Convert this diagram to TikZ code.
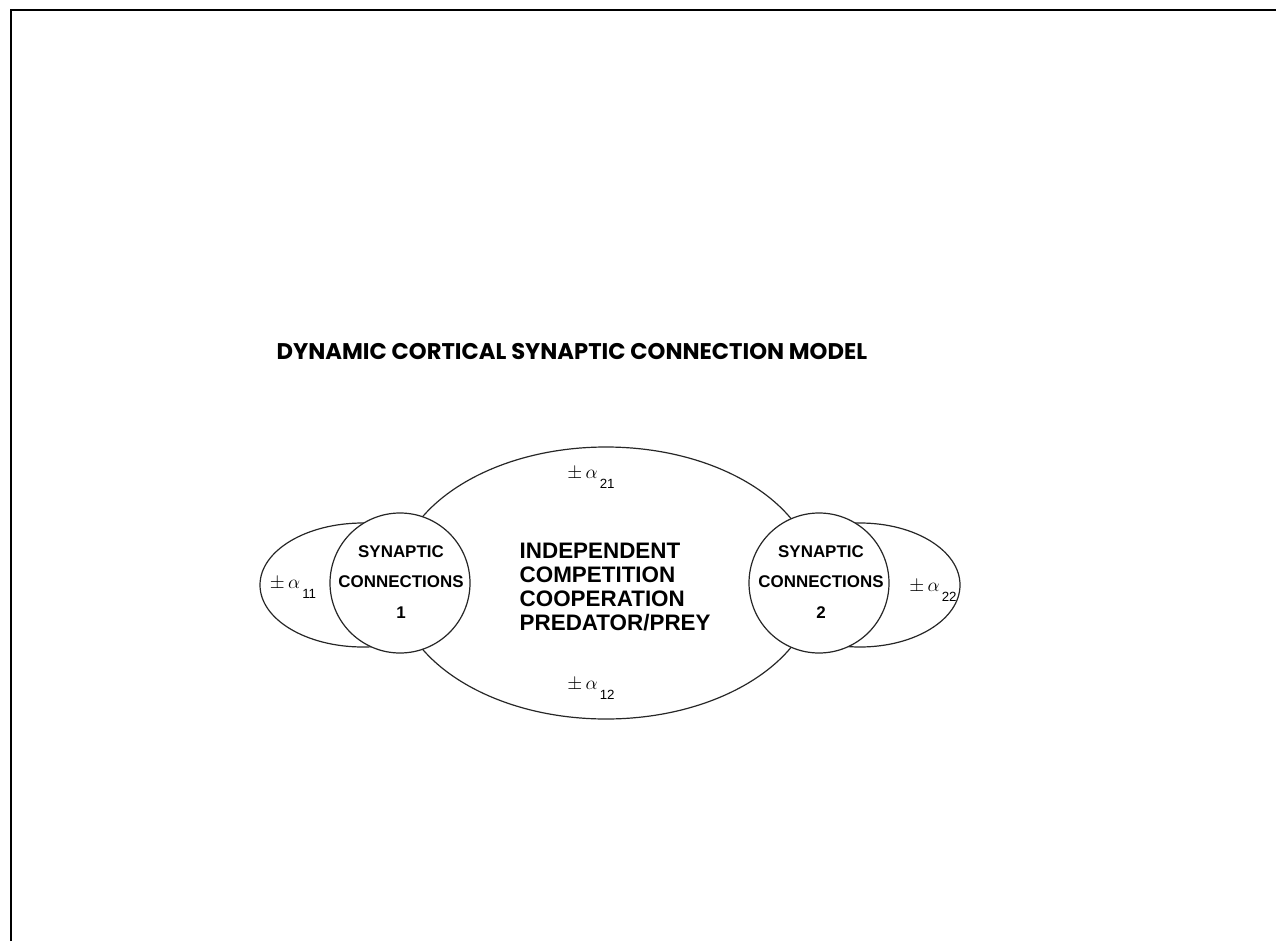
\documentclass[tikz,border=0pt]{standalone}
\usepackage{fontspec}
\setmainfont{Liberation Sans}
\newfontfamily\titlefont{Poppins}
\usepackage{tikz}
\usetikzlibrary{shapes.geometric,positioning}

% coupling coefficient with a lowered index
\newcommand{\alphacoef}[1]{$\pm\,\alpha$\raisebox{-1.0ex}{\fontsize{10}{12}\selectfont\,#1}}

\begin{document}
\begin{tikzpicture}[
  x=0.75pt,y=-0.75pt,
  frame/.style={draw=black, line width=1.6pt},
  loop/.style={draw=black!85, line width=0.9pt, ellipse, inner sep=0pt},
  synapse/.style={draw=black!85, line width=0.9pt, circle, fill=white, minimum size=105pt, inner sep=0pt},
  syntext/.style={font=\bfseries\fontsize{12.7}{23}\selectfont, align=center},
  title/.style={font=\titlefont\bfseries\fontsize{17}{20}\selectfont, anchor=base west},
  modes/.style={font=\bfseries\fontsize{16.8}{18}\selectfont, align=left, anchor=north west},
  coef/.style={font=\fontsize{13.5}{15}\selectfont}
]
\useasboundingbox (0,0) rectangle (1276,941);

% Frame (top and left edges only)
\draw[frame] (11,941) -- (11,10) -- (1276,10);

% Title
\node[title] (title) at (272,359) {DYNAMIC CORTICAL SYNAPTIC CONNECTION MODEL};

% ================= Interaction loops =================
\node[loop, minimum width=315pt, minimum height=204pt] (inter) at (606,583) {};
\node[loop, minimum width=154.5pt, minimum height=93pt] (self1) at (363,585) {};
\node[loop, minimum width=150pt, minimum height=93pt] (self2) at (860,585) {};

% ================= Synaptic connection pools =================
\node[synapse] (syn1) at (400,583) {};
\node[synapse] (syn2) at (819,583) {};
\node[syntext] (txt1) at (401,582) {SYNAPTIC\\CONNECTIONS\\1};
\node[syntext] (txt2) at (821,582) {SYNAPTIC\\CONNECTIONS\\2};

% Interaction types
\node[modes] (types) at (515,538) {INDEPENDENT\\COMPETITION\\COOPERATION\\PREDATOR/PREY};

% Coupling coefficients
\node[coef] (a21) at (591,478) {\alphacoef{21}};
\node[coef] (a12) at (591,689) {\alphacoef{12}};
\node[coef] (a11) at (293,588) {\alphacoef{11}};
\node[coef] (a22) at (933,591) {\alphacoef{22}};

\end{tikzpicture}
\end{document}
